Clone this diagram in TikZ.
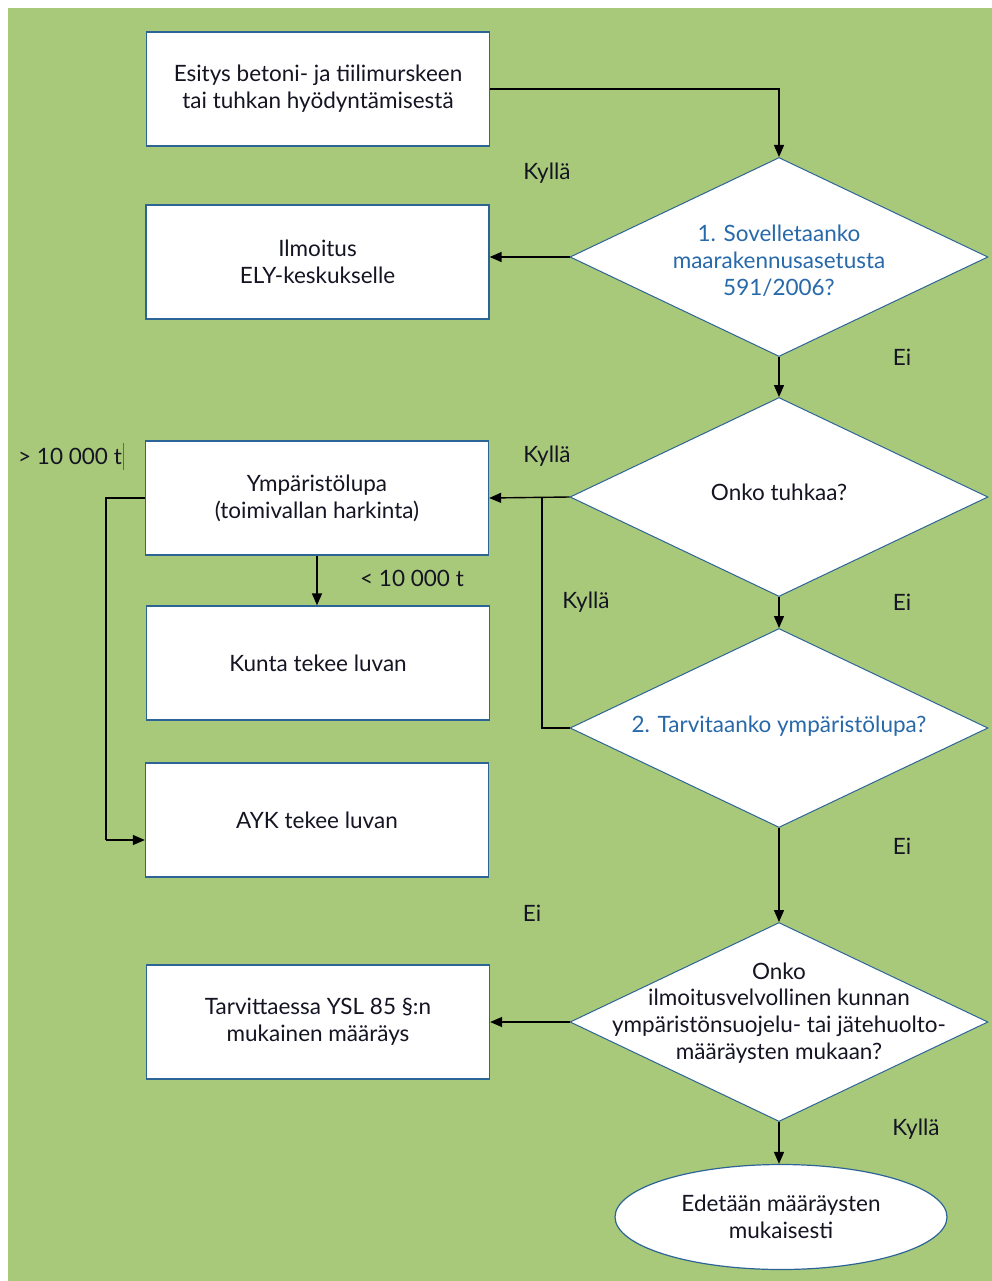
\documentclass[tikz,border=0pt]{standalone}
\usepackage{fontspec}
\setmainfont{Lato}
\usetikzlibrary{shapes.geometric,arrows.meta}
\definecolor{bg}{RGB}{169,201,122}
\definecolor{edge}{RGB}{45,100,150}
\definecolor{qblue}{RGB}{40,105,170}
\definecolor{ink}{RGB}{20,20,35}
\definecolor{cursor}{RGB}{120,80,170}
\newcommand\myfs{\fontsize{22.5}{26.8}\selectfont}
\begin{document}
\begin{tikzpicture}[x=1pt,y=-1pt,
  box/.style={draw=edge,line width=1.3pt,fill=white,minimum width=343pt,minimum height=114pt,inner sep=0pt,align=center,font=\myfs,text=ink},
  dia/.style={diamond,draw=edge,line width=1pt,fill=white,minimum width=418pt,minimum height=199pt,inner sep=0pt},
  qtext/.style={align=center,font=\myfs,text=ink,inner sep=0pt},
  lab/.style={font=\myfs,text=ink,inner sep=0pt},
  arr/.style={draw=black,line width=1.4pt,-{Triangle[length=12pt,width=10pt]}},
  ln/.style={draw=black,line width=1.4pt}]
\useasboundingbox (0,0) rectangle (992,1281);
\fill[white] (0,0) rectangle (992,1281);
\fill[bg] (8,8) rectangle (992,1281);
% boxes
\node[box] (b1) at (318,89) {Esitys betoni- ja tiilimurskeen\\tai tuhkan hyödyntämisestä};
\node[box] (b2) at (317.5,262) {Ilmoitus\\ELY-keskukselle};
\node[box] (b3) at (317,498) {Ympäristölupa\\(toimivallan harkinta)};
\node[box] (b4) at (318,663) {Kunta tekee luvan};
\node[box] (b5) at (317,820) {AYK tekee luvan};
\node[box] (b6) at (318,1022) {Tarvittaessa YSL 85 §:n\\mukainen määräys};
% diamonds
\node[dia] (d1) at (779,257) {};
\node[qtext,text=qblue] (t1) at (779,261) {1. Sovelletaanko\\maarakennusasetusta\\591/2006?};
\node[dia] (d2) at (779,497) {};
\node[qtext] (t2) at (779,492) {Onko tuhkaa?};
\node[dia] (d3) at (779,728) {};
\node[qtext,text=qblue] (t3) at (779,726) {2. Tarvitaanko ympäristölupa?};
\node[dia] (d4) at (779,1022) {};
\node[qtext] (t4) at (779,1013) {Onko\\ilmoitusvelvollinen kunnan\\ympäristönsuojelu- tai jätehuolto-\\määräysten mukaan?};
% ellipse
\node[ellipse,draw=edge,line width=1.2pt,fill=white,minimum width=332pt,minimum height=105pt,inner sep=0pt,align=center,font=\myfs,text=ink] (e) at (781,1217) {Edetään määräysten\\mukaisesti};
% labels
\node[lab] (l1) at (547,173) {Kyllä};
\node[lab] (l2) at (902,357) {Ei};
\node[lab] (l3) at (547,456) {Kyllä};
\node[lab] (l4) at (902,602) {Ei};
\node[lab] (l5) at (586,602) {Kyllä};
\node[lab] (l6) at (412,578) {< 10 000 t};
\node[lab] (l7) at (70,456) {> 10 000 t};
\node[lab] (l8) at (902,846) {Ei};
\node[lab] (l9) at (532,913) {Ei};
\node[lab] (l10) at (916,1129) {Kyllä};
\draw[cursor,line width=0.8pt] (l7.east) ++(1,-13) -- ++(0,27);
% connectors
\draw[arr] (b1.east) -| (d1.north);
\draw[arr] (d1.west) -- (d1.west -| b2.east);
\draw[arr] (d1.south) -- (d2.north);
\draw[arr] (d2.west) -- (b3.east);
\draw[arr] (d2.south) -- (d3.north);
\coordinate (j) at (542,497);
\draw[ln] (d3.west) -| (j);
\draw[arr] (b3.south) -- (b3.south |- b4.north);
\coordinate (k) at (106,840);
\draw[ln] (b3.west) -| (k);
\draw[arr] (k) -- (k -| b5.west);
\draw[arr] (d3.south) -- (d4.north);
\draw[arr] (d4.west) -- (b6.east);
\draw[arr] (d4.south) -- (d4.south |- e.north);
\end{tikzpicture}
\end{document}
